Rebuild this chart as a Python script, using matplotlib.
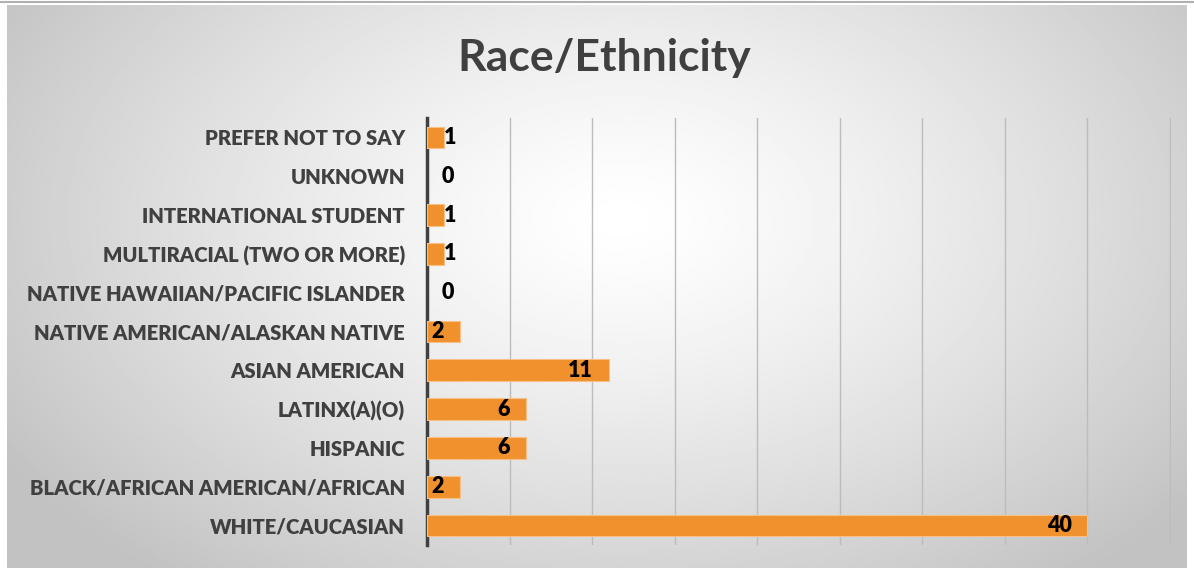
import numpy as np
import matplotlib.pyplot as plt

categories = [ 'WHITE/CAUCASIAN', 'BLACK/AFRICAN AMERICAN/AFRICAN', 'HISPANIC',
               'LATINX(A)(O)', 'ASIAN AMERICAN', 'NATIVE AMERICAN/ALASKAN NATIVE',
               'NATIVE HAWAIIAN/PACIFIC ISLANDER', 'MULTIRACIAL (TWO OR MORE)',
               'INTERNATIONAL STUDENT', 'UNKNOWN', 'PREFER NOT TO SAY' ]
counts = [ 40, 2, 6, 6, 11, 2, 0, 1, 1, 0, 1 ]

W, H = 1194, 573
fig = plt.figure( figsize = ( W / 100, H / 100 ), dpi = 100 )
fig.patch.set_facecolor( 'white' )

# radial gradient background panel
bg = fig.add_axes( [ 7 / W, 5 / H, 1180 / W, 563 / H ] )
yy, xx = np.mgrid[ 0:1:300j, 0:1:600j ]
r = np.sqrt( ( ( xx - 0.52 ) * 1.0 ) ** 2 + ( ( yy - 0.62 ) * 0.75 ) ** 2 )
shade = np.clip( 1.0 - 0.45 * r ** 1.3, 0.76, 1.0 )
bg.imshow( shade, cmap = 'gray', vmin = 0, vmax = 1, aspect = 'auto',
           extent = ( 0, 1, 0, 1 ), origin = 'lower' )
bg.set_axis_off()
fig.add_artist( plt.Line2D( [ 0, 1 ], [ 1 - 2 / H, 1 - 2 / H ],
                            color = '#b0b0b0', lw = 1.5 ) )

ax = fig.add_axes( [ 427 / W, 1 - 545 / H, ( 1171 - 427 ) / W, 427 / H ] )
ax.patch.set_alpha( 0 )

y = np.arange( len( categories ) )
lws = [ 0.8 if v > 0 else 0 for v in counts ]
ax.barh( y, counts, height = 0.56, color = '#F0912D',
         edgecolor = '#F6C088', linewidth = lws, zorder = 3 )

ax.set_xlim( 0, 45.08 )
ax.set_ylim( -0.5, len( categories ) - 0.5 )
ax.set_xticks( np.arange( 5, 46, 5 ) )
ax.xaxis.set_tick_params( length = 0, labelbottom = False )
ax.grid( axis = 'x', color = '#bcbcbc', lw = 1, zorder = 1 )
ax.set_axisbelow( True )

ax.set_yticks( y )
ax.set_yticklabels( categories, family = 'Lato', weight = 'heavy',
                    fontsize = 14.6, color = '#404040' )
ax.tick_params( axis = 'y', length = 0, pad = 16 )

for s in [ 'top', 'right', 'bottom' ]:
    ax.spines[ s ].set_visible( False )
ax.spines[ 'left' ].set_color( '#404040' )
ax.spines[ 'left' ].set_linewidth( 2.5 )

for i, v in enumerate( counts ):
    if v >= 2:
        ax.text( v - 0.95, i, str( v ), ha = 'right', va = 'center',
                 family = 'Lato', weight = 'heavy', fontsize = 15.5,
                 color = 'black', zorder = 4 )
    else:
        ax.text( v + 0.05 if v else 0.9, i, str( v ), ha = 'left',
                 va = 'center', family = 'Lato', weight = 'heavy',
                 fontsize = 15.5, color = 'black', zorder = 4 )

fig.text( 604 / W, 1 - 58 / H, 'Race/Ethnicity', ha = 'center', va = 'center',
          family = 'Lato', weight = 'bold', fontsize = 32, color = '#404040' )

fig.savefig( 'out.png', dpi = 100 )
